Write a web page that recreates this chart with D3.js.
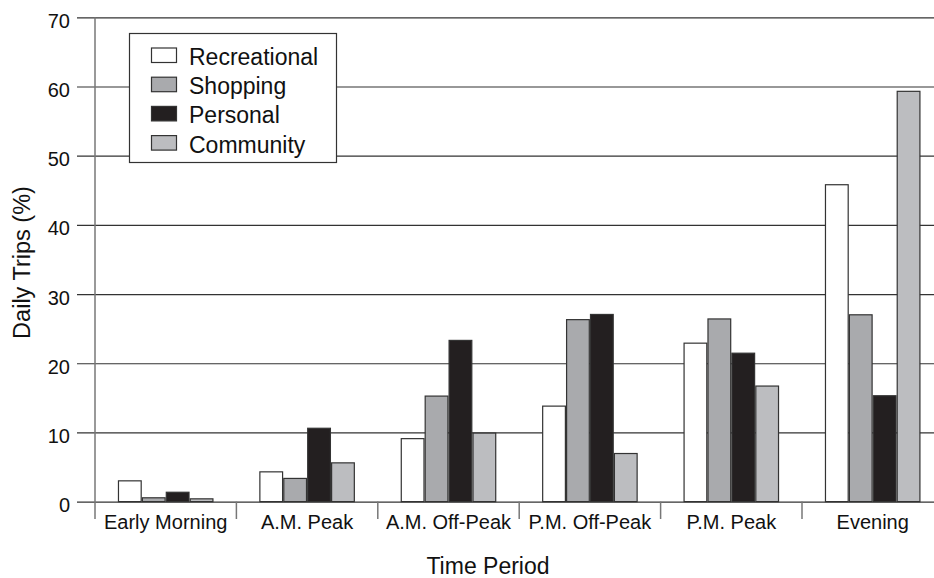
<!DOCTYPE html>
<html><head><meta charset="utf-8">
<script src="https://cdn.jsdelivr.net/npm/d3@7/dist/d3.min.js"></script>
<style>body{margin:0;background:#fff}svg{display:block;font-family:"Liberation Sans",Arial,Helvetica,sans-serif}</style>
</head><body><svg id="c" width="934" height="578"></svg>
<script>
const categories = ["Early Morning","A.M. Peak","A.M. Off-Peak","P.M. Off-Peak","P.M. Peak","Evening"];
const seriesNames = ["Recreational","Shopping","Personal","Community"];
const recreational = [3.0, 4.3, 9.1, 13.8, 22.9, 45.8];
const shopping     = [0.55, 3.35, 15.25, 26.3, 26.4, 27.0];
const personal     = [1.35, 10.6, 23.3, 27.05, 21.45, 15.3];
const community    = [0.4, 5.6, 9.9, 6.95, 16.7, 59.3];
const yTicks = [0,10,20,30,40,50,60,70];
const colors = ["#ffffff","#a9aaad","#231f20","#bcbdc0"];
const seriesValues = [recreational, shopping, personal, community];

const svg = d3.select("#c");
const mLeft = 95, mRight = 943.4, mTop = 17.3, mBottom = 501.6;
const y = d3.scaleLinear().domain([0,70]).range([mBottom, mTop]);
const x0 = d3.scaleBand().domain(categories).range([mLeft, mRight]).padding(0);
const bw = x0.bandwidth();
const x1 = d3.scaleBand().domain(seriesNames).range([bw*0.166, bw*0.834]).paddingInner(0.05).paddingOuter(0);

// grid lines with tick extensions
const yAxis = d3.axisLeft(y).tickValues(yTicks).tickSize(-(934-77)).tickPadding(0).tickFormat(d3.format("d"));
const gy = svg.append("g").attr("transform", `translate(77,0)`).call(yAxis);
gy.select(".domain").remove();
gy.selectAll(".tick line").attr("stroke","#333").attr("stroke-width",1.2);
gy.selectAll(".tick text").attr("x",-7).attr("dy","10").attr("font-size","20px").attr("fill","#111")
  .attr("font-family",'"Liberation Sans",Arial,sans-serif');

// bars
const groups = svg.append("g").selectAll("g").data(categories).join("g")
  .attr("transform", d => `translate(${x0(d)},0)`);
groups.selectAll("rect").data((c,i) => seriesNames.map((s,j) => ({s, v: seriesValues[j][i], j})))
  .join("rect")
  .attr("x", d => x1(d.s)).attr("width", x1.bandwidth())
  .attr("y", d => y(d.v)).attr("height", d => y(0) - y(d.v))
  .attr("fill", d => colors[d.j]).attr("stroke","#333").attr("stroke-width",1.2);

// y axis line
svg.append("line").attr("x1",mLeft).attr("x2",mLeft).attr("y1",mTop).attr("y2",519)
  .attr("stroke","#777").attr("stroke-width",1.5);

// x axis separators and labels
const gx = svg.append("g");
gx.selectAll("line.sep").data(categories.slice(1)).join("line").attr("class","sep")
  .attr("x1", d => x0(d)).attr("x2", d => x0(d)).attr("y1", mBottom).attr("y2", 519)
  .attr("stroke","#777").attr("stroke-width",1.5);
gx.selectAll("text").data(categories).join("text")
  .attr("x", d => x0(d) + bw/2).attr("y", 528.5).attr("text-anchor","middle")
  .attr("font-size","20px").attr("fill","#111").text(d => d);

// axis titles
svg.append("text").attr("transform","translate(30,262.5) rotate(-90)").attr("text-anchor","middle")
  .attr("font-size","23.5px").attr("fill","#111").text("Daily Trips (%)");
svg.append("text").attr("x",488).attr("y",573.5).attr("text-anchor","middle")
  .attr("font-size","23px").attr("fill","#111").text("Time Period");

// legend
const lg = svg.append("g");
lg.append("rect").attr("x",129.5).attr("y",33.5).attr("width",207).attr("height",129)
  .attr("fill","#fff").attr("stroke","#333").attr("stroke-width",1.2);
const rows = lg.selectAll("g").data(seriesNames).join("g")
  .attr("transform",(d,i)=>`translate(0,${i*29.2})`);
rows.append("rect").attr("x",151.5).attr("y",48).attr("width",25).attr("height",14.5)
  .attr("fill",(d,i)=>colors[i]).attr("stroke","#333").attr("stroke-width",1.2);
rows.append("text").attr("x",189).attr("y",65).attr("font-size","23px").attr("fill","#111").text(d=>d);
</script></body></html>
